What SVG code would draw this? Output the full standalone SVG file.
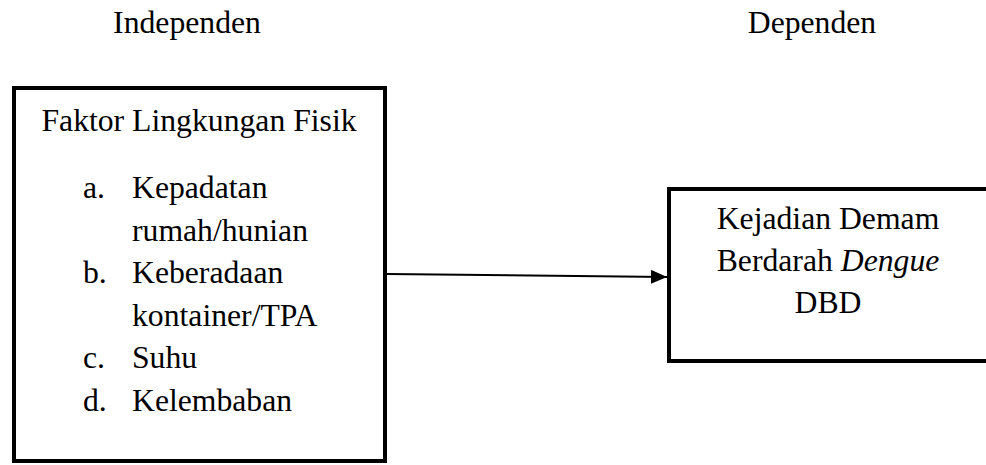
<svg xmlns="http://www.w3.org/2000/svg" width="986" height="465" viewBox="0 0 986 465">
<style>
.t{font-size:31.7px;fill:#000}
.box{fill:#fff;stroke:#000;stroke-width:4}
.conn{stroke:#000;stroke-width:2;fill:none}
</style>
<defs>
<marker id="arr" markerWidth="8" markerHeight="7" refX="8" refY="3.5" orient="auto" markerUnits="strokeWidth">
<path d="M0,0 L8,3.5 L0,7 Z" fill="#000"/>
</marker>
</defs>
<rect width="986" height="465" fill="#fff"/>
<g font-family="Liberation Serif, Times New Roman, serif">
<text class="t" x="187" y="33" text-anchor="middle">Independen</text>
<text class="t" x="812" y="33" text-anchor="middle">Dependen</text>
<g id="node-independen">
<rect class="box" x="14" y="88" width="371" height="373"/>
<text class="t" x="199" y="131" text-anchor="middle">Faktor Lingkungan Fisik</text>
<text class="t" x="83" y="198">a.</text><text class="t" x="132" y="198">Kepadatan</text>
<text class="t" x="132" y="241">rumah/hunian</text>
<text class="t" x="83" y="283">b.</text><text class="t" x="132" y="283">Keberadaan</text>
<text class="t" x="132" y="326">kontainer/TPA</text>
<text class="t" x="83" y="368">c.</text><text class="t" x="132" y="368">Suhu</text>
<text class="t" x="83" y="411">d.</text><text class="t" x="132" y="411">Kelembaban</text>
</g>
<g id="node-dependen">
<rect class="box" x="669" y="189" width="400" height="172"/>
<text class="t" x="828" y="229" text-anchor="middle">Kejadian Demam</text>
<text class="t" x="828" y="271" text-anchor="middle">Berdarah <tspan font-style="italic">Dengue</tspan></text>
<text class="t" x="828" y="313" text-anchor="middle">DBD</text>
</g>
</g>
<g id="connectors">
<line class="conn" x1="387" y1="274" x2="667" y2="277" marker-end="url(#arr)"/>
</g>
</svg>
